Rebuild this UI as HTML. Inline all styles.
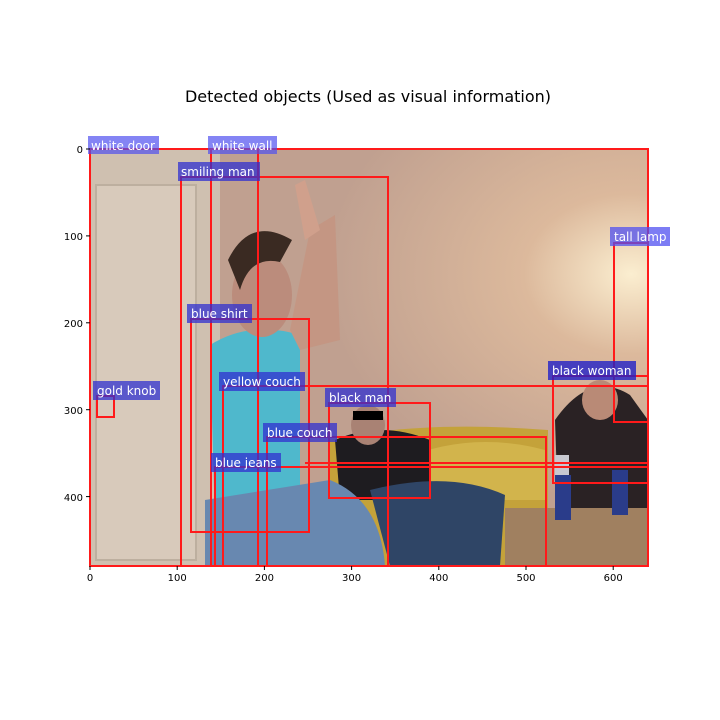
<!DOCTYPE html>
<html><head><meta charset="utf-8"><style>
body{margin:0;background:#fff;}
svg{display:block;font-family:"DejaVu Sans","Liberation Sans",sans-serif;}
</style></head><body>
<svg width="720" height="720" viewBox="0 0 720 720" xmlns="http://www.w3.org/2000/svg">
<rect width="720" height="720" fill="#fff"/>
<text x="368" y="102" font-size="16" text-anchor="middle" fill="#000">Detected objects (Used as visual information)</text>
<defs>
<radialGradient id="lamp" cx="0.97" cy="0.3" r="0.55"><stop offset="0" stop-color="#fbeed0"/><stop offset="0.35" stop-color="#dcb99c"/><stop offset="1" stop-color="#c0a090"/></radialGradient>
<clipPath id="c"><rect x="90" y="149" width="558" height="417"/></clipPath>
</defs>
<g clip-path="url(#c)">
<rect x="90" y="149" width="558" height="417" fill="url(#lamp)"/>
<rect x="90" y="149" width="130" height="417" fill="#cfc0b0"/>
<rect x="96" y="185" width="100" height="375" fill="#d8cabb"/>
<rect x="96" y="185" width="100" height="375" fill="none" stroke="#bdaf9f" stroke-width="2"/>
<path d="M330 440 Q420 420 548 430 L548 566 L330 566Z" fill="#c4a23a"/>
<path d="M400 460 Q470 430 545 450 L545 500 L400 500Z" fill="#d2b44c"/>
<path d="M555 420 Q590 370 630 395 L648 420 L648 566 L560 566Z" fill="#2a2224"/>
<ellipse cx="600" cy="400" rx="18" ry="20" fill="#b98a76"/>
<rect x="505" y="508" width="143" height="58" fill="#a08060"/>
<rect x="555" y="455" width="14" height="65" fill="#c8c8d0"/>
<rect x="555" y="475" width="16" height="45" fill="#2a3c8a"/>
<rect x="612" y="470" width="16" height="45" fill="#2a3c8a"/>
<path d="M335 440 Q380 420 430 440 L430 500 L340 500Z" fill="#1e1c20"/>
<ellipse cx="368" cy="425" rx="17" ry="20" fill="#a98274"/>
<rect x="353" y="411" width="30" height="9" fill="#000"/>
<path d="M370 490 Q450 470 505 495 L500 566 L390 566Z" fill="#2f4566"/>
<path d="M210 345 Q250 320 300 335 L300 500 Q260 530 215 525 Z" fill="#4fb8cc"/>
<path d="M205 500 L330 480 Q380 500 385 566 L205 566Z" fill="#6888b0"/>
<path d="M290 330 L310 230 L335 215 L340 340 L300 350Z" fill="#c49683"/>
<path d="M295 185 L305 180 L320 230 L305 240Z" fill="#d0a08c"/>
<ellipse cx="262" cy="295" rx="30" ry="42" fill="#bb8c7c"/>
<path d="M228 260 Q250 215 292 240 L280 262 Q250 255 240 290Z" fill="#3a2a22"/>
</g>
<rect x="90" y="149" width="558" height="417" fill="none" stroke="#8b1a1a" stroke-width="1.5"/>
<g fill="none" stroke="#ff1a1a" stroke-width="2">
<rect x="90" y="149" width="558" height="417"/>
<rect x="211" y="149" width="47" height="417"/>
<rect x="181" y="177" width="207" height="389"/>
<rect x="191" y="319" width="118" height="213"/>
<rect x="223" y="386" width="425" height="180"/>
<rect x="329" y="403" width="101" height="95"/>
<rect x="267" y="437" width="279" height="129"/>
<rect x="215" y="467" width="433" height="99"/>
<line x1="305" y1="463" x2="648" y2="463"/>
<rect x="553" y="376" width="95" height="107"/>
<rect x="614" y="243" width="34" height="179"/>
<rect x="97" y="396" width="17" height="21"/>
</g>
<g font-size="12" fill="#fff">
<rect x="88" y="136" width="71" height="18" fill="#5050f0" fill-opacity="0.7"/><text x="91" y="150">white door</text>
<rect x="208" y="136" width="69" height="18" fill="#5050f0" fill-opacity="0.7"/><text x="212" y="150">white wall</text>
<rect x="178" y="162" width="82" height="19" fill="#3030d0" fill-opacity="0.75"/><text x="181" y="176">smiling man</text>
<rect x="610" y="227" width="60" height="19" fill="#5050f0" fill-opacity="0.75"/><text x="614" y="241">tall lamp</text>
<rect x="187" y="304" width="65" height="19" fill="#3030d0" fill-opacity="0.75"/><text x="191" y="318">blue shirt</text>
<rect x="548" y="361" width="88" height="19" fill="#2020c8" fill-opacity="0.8"/><text x="552" y="375">black woman</text>
<rect x="93" y="381" width="67" height="19" fill="#3030d0" fill-opacity="0.75"/><text x="97" y="395">gold knob</text>
<rect x="219" y="372" width="86" height="19" fill="#3030d0" fill-opacity="0.75"/><text x="223" y="386">yellow couch</text>
<rect x="325" y="388" width="71" height="19" fill="#3030d0" fill-opacity="0.75"/><text x="329" y="402">black man</text>
<rect x="263" y="423" width="74" height="19" fill="#3030d0" fill-opacity="0.75"/><text x="267" y="437">blue couch</text>
<rect x="211" y="453" width="70" height="19" fill="#3030d0" fill-opacity="0.75"/><text x="215" y="467">blue jeans</text>
</g>
<g stroke="#000" stroke-width="1">
<line x1="90" y1="566" x2="90" y2="570"/><line x1="177.2" y1="566" x2="177.2" y2="570"/><line x1="264.4" y1="566" x2="264.4" y2="570"/><line x1="351.6" y1="566" x2="351.6" y2="570"/><line x1="438.8" y1="566" x2="438.8" y2="570"/><line x1="526" y1="566" x2="526" y2="570"/><line x1="613.2" y1="566" x2="613.2" y2="570"/>
<line x1="86" y1="149" x2="90" y2="149"/><line x1="86" y1="235.9" x2="90" y2="235.9"/><line x1="86" y1="322.8" x2="90" y2="322.8"/><line x1="86" y1="409.7" x2="90" y2="409.7"/><line x1="86" y1="496.6" x2="90" y2="496.6"/>
</g>
<g font-size="10" fill="#000" text-anchor="middle">
<text x="90" y="581">0</text><text x="177.2" y="581">100</text><text x="264.4" y="581">200</text><text x="351.6" y="581">300</text><text x="438.8" y="581">400</text><text x="526" y="581">500</text><text x="613.2" y="581">600</text>
</g>
<g font-size="10" fill="#000" text-anchor="end">
<text x="83" y="153">0</text><text x="83" y="240">100</text><text x="83" y="327">200</text><text x="83" y="414">300</text><text x="83" y="501">400</text>
</g>
</svg>
</body></html>
